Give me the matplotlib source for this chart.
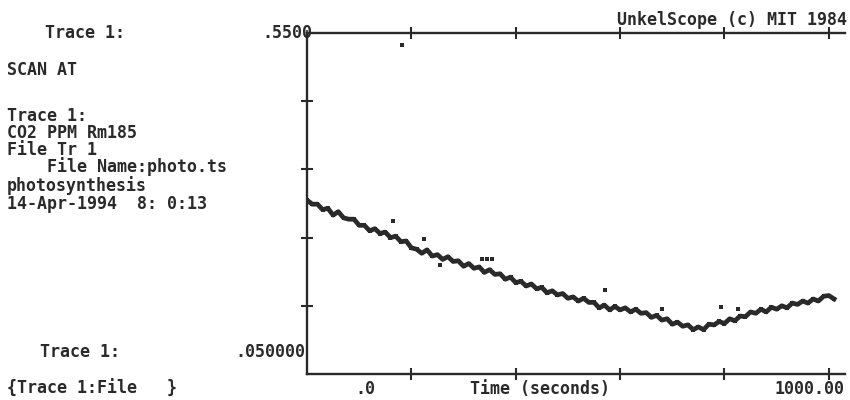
import matplotlib
matplotlib.use("Agg")
import matplotlib.pyplot as plt

# CO2 trace, time in seconds and ppm scaled reading
time_s = [0, 10, 20, 30, 40, 50, 60, 70, 80, 90,
          100, 110, 120, 130, 140, 150, 160, 170, 180, 190,
          200, 210, 220, 230, 240, 250, 260, 270, 280, 290,
          300, 310, 320, 330, 340, 350, 360, 370, 380, 390,
          400, 410, 420, 430, 440, 450, 460, 470, 480, 490,
          500, 510, 520, 530, 540, 550, 560, 570, 580, 590,
          600, 610, 620, 630, 640, 650, 660, 670, 680, 690,
          700, 710, 720, 730, 740, 750, 760, 770, 780, 790,
          800, 810, 820, 830, 840, 850, 860, 870, 880, 890,
          900, 910, 920, 930, 940, 950, 960, 970, 980, 990,
          1000, 1010]
co2 = [0.305, 0.299, 0.299, 0.291, 0.293, 0.283, 0.288, 0.279, 0.277, 0.277,
       0.268, 0.268, 0.260, 0.263, 0.256, 0.258, 0.250, 0.252, 0.244, 0.245,
       0.235, 0.233, 0.227, 0.232, 0.223, 0.225, 0.218, 0.222, 0.215, 0.216,
       0.208, 0.212, 0.205, 0.207, 0.199, 0.203, 0.196, 0.197, 0.189, 0.192,
       0.184, 0.186, 0.179, 0.182, 0.175, 0.177, 0.169, 0.172, 0.166, 0.168,
       0.161, 0.163, 0.157, 0.161, 0.155, 0.155, 0.147, 0.151, 0.144, 0.149,
       0.144, 0.147, 0.141, 0.145, 0.139, 0.140, 0.133, 0.136, 0.129, 0.131,
       0.123, 0.126, 0.120, 0.122, 0.115, 0.119, 0.115, 0.123, 0.122, 0.127,
       0.124, 0.131, 0.128, 0.135, 0.134, 0.141, 0.139, 0.145, 0.141, 0.148,
       0.145, 0.150, 0.147, 0.154, 0.152, 0.157, 0.154, 0.160, 0.157, 0.164,
       0.165, 0.160]

# stray samples off the main trace
stray_t = [165, 182, 224, 255, 335, 345, 354, 571, 680, 793, 826]
stray_v = [0.274, 0.532, 0.248, 0.210, 0.219, 0.219, 0.219, 0.173, 0.145, 0.148, 0.145]

x_ticks = [200, 400, 600, 800, 1000]
y_ticks = [0.15, 0.25, 0.35, 0.45]

ink = "#2a2a2a"
mono = "DejaVu Sans Mono"

fig = plt.figure(figsize=(8.5, 4), dpi=100)
fig.patch.set_facecolor("white")

W, H = 850.0, 400.0
ax = fig.add_axes([307 / W, 1 - 374 / H, (845 - 307) / W, (374 - 33) / H])

ax.plot(time_s, co2, color=ink, lw=3.4, marker="s", ms=3.2, mew=0)
ax.plot(stray_t, stray_v, linestyle="none", marker="s", ms=2.6, color=ink, mew=0)

ax.set_xlim(0, 1031)
ax.set_ylim(0.05, 0.55)

ax.spines["right"].set_visible(False)
for s in ["left", "bottom", "top"]:
    ax.spines[s].set_color(ink)
    ax.spines[s].set_linewidth(1.7)

ax.set_xticks(x_ticks)
ax.set_yticks(y_ticks)
ax.tick_params(axis="x", which="both", direction="inout", length=8, width=1.5,
               color=ink, top=True, bottom=True, labelbottom=False, labeltop=False)
ax.tick_params(axis="y", which="both", direction="inout", length=8, width=1.5,
               color=ink, left=True, right=False, labelleft=False)


def put(x, y, s, ha="left"):
    fig.text(x / W, 1 - y / H, s, ha=ha, va="center", family=mono,
             fontweight="bold", fontsize=12, color=ink)


# left side annotations
put(45, 33, "Trace 1:")
put(7, 70, "SCAN AT")
put(7, 116, "Trace 1:")
put(7, 133, "CO2 PPM Rm185")
put(7, 150, "File Tr 1")
put(7, 167, "    File Name:photo.ts")
put(7, 186, "photosynthesis")
put(7, 204, "14-Apr-1994  8: 0:13")
put(40, 352, "Trace 1:")
put(7, 389, "{Trace 1:File   }")

# axis labels
put(312, 33, ".5500", ha="right")
put(305, 352, ".050000", ha="right")
put(365, 389, ".0", ha="center")
put(540, 389, "Time (seconds)", ha="center")
put(845, 389, "1000.00", ha="right")
put(847, 20, "UnkelScope (c) MIT 1984", ha="right")

fig.savefig("out.png", dpi=100, facecolor="white")
